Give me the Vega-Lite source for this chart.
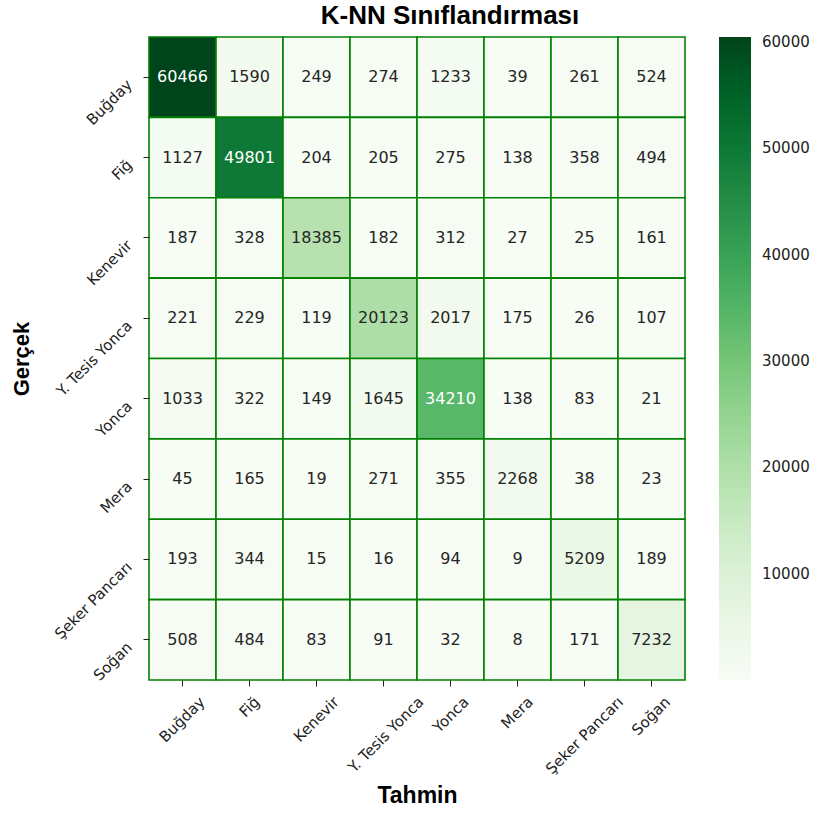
{
  "$schema": "https://vega.github.io/schema/vega-lite/v6.json",
  "width": 536,
  "height": 643,
  "autosize": {"type": "none"},
  "padding": {"left": 149, "top": 37, "right": 133, "bottom": 134},
  "background": "white",
  "title": {
    "text": "K-NN Sınıflandırması",
    "font": "Liberation Sans",
    "fontSize": 26,
    "fontWeight": "bold",
    "color": "#000000",
    "anchor": "middle",
    "dx": 33,
    "offset": 7
  },
  "data": {
    "values": [
      {"t": "Buğday", "p": "Buğday", "v": 60466}, {"t": "Buğday", "p": "Fiğ", "v": 1590}, {"t": "Buğday", "p": "Kenevir", "v": 249}, {"t": "Buğday", "p": "Y. Tesis Yonca", "v": 274}, {"t": "Buğday", "p": "Yonca", "v": 1233}, {"t": "Buğday", "p": "Mera", "v": 39}, {"t": "Buğday", "p": "Şeker Pancarı", "v": 261}, {"t": "Buğday", "p": "Soğan", "v": 524},
      {"t": "Fiğ", "p": "Buğday", "v": 1127}, {"t": "Fiğ", "p": "Fiğ", "v": 49801}, {"t": "Fiğ", "p": "Kenevir", "v": 204}, {"t": "Fiğ", "p": "Y. Tesis Yonca", "v": 205}, {"t": "Fiğ", "p": "Yonca", "v": 275}, {"t": "Fiğ", "p": "Mera", "v": 138}, {"t": "Fiğ", "p": "Şeker Pancarı", "v": 358}, {"t": "Fiğ", "p": "Soğan", "v": 494},
      {"t": "Kenevir", "p": "Buğday", "v": 187}, {"t": "Kenevir", "p": "Fiğ", "v": 328}, {"t": "Kenevir", "p": "Kenevir", "v": 18385}, {"t": "Kenevir", "p": "Y. Tesis Yonca", "v": 182}, {"t": "Kenevir", "p": "Yonca", "v": 312}, {"t": "Kenevir", "p": "Mera", "v": 27}, {"t": "Kenevir", "p": "Şeker Pancarı", "v": 25}, {"t": "Kenevir", "p": "Soğan", "v": 161},
      {"t": "Y. Tesis Yonca", "p": "Buğday", "v": 221}, {"t": "Y. Tesis Yonca", "p": "Fiğ", "v": 229}, {"t": "Y. Tesis Yonca", "p": "Kenevir", "v": 119}, {"t": "Y. Tesis Yonca", "p": "Y. Tesis Yonca", "v": 20123}, {"t": "Y. Tesis Yonca", "p": "Yonca", "v": 2017}, {"t": "Y. Tesis Yonca", "p": "Mera", "v": 175}, {"t": "Y. Tesis Yonca", "p": "Şeker Pancarı", "v": 26}, {"t": "Y. Tesis Yonca", "p": "Soğan", "v": 107},
      {"t": "Yonca", "p": "Buğday", "v": 1033}, {"t": "Yonca", "p": "Fiğ", "v": 322}, {"t": "Yonca", "p": "Kenevir", "v": 149}, {"t": "Yonca", "p": "Y. Tesis Yonca", "v": 1645}, {"t": "Yonca", "p": "Yonca", "v": 34210}, {"t": "Yonca", "p": "Mera", "v": 138}, {"t": "Yonca", "p": "Şeker Pancarı", "v": 83}, {"t": "Yonca", "p": "Soğan", "v": 21},
      {"t": "Mera", "p": "Buğday", "v": 45}, {"t": "Mera", "p": "Fiğ", "v": 165}, {"t": "Mera", "p": "Kenevir", "v": 19}, {"t": "Mera", "p": "Y. Tesis Yonca", "v": 271}, {"t": "Mera", "p": "Yonca", "v": 355}, {"t": "Mera", "p": "Mera", "v": 2268}, {"t": "Mera", "p": "Şeker Pancarı", "v": 38}, {"t": "Mera", "p": "Soğan", "v": 23},
      {"t": "Şeker Pancarı", "p": "Buğday", "v": 193}, {"t": "Şeker Pancarı", "p": "Fiğ", "v": 344}, {"t": "Şeker Pancarı", "p": "Kenevir", "v": 15}, {"t": "Şeker Pancarı", "p": "Y. Tesis Yonca", "v": 16}, {"t": "Şeker Pancarı", "p": "Yonca", "v": 94}, {"t": "Şeker Pancarı", "p": "Mera", "v": 9}, {"t": "Şeker Pancarı", "p": "Şeker Pancarı", "v": 5209}, {"t": "Şeker Pancarı", "p": "Soğan", "v": 189},
      {"t": "Soğan", "p": "Buğday", "v": 508}, {"t": "Soğan", "p": "Fiğ", "v": 484}, {"t": "Soğan", "p": "Kenevir", "v": 83}, {"t": "Soğan", "p": "Y. Tesis Yonca", "v": 91}, {"t": "Soğan", "p": "Yonca", "v": 32}, {"t": "Soğan", "p": "Mera", "v": 8}, {"t": "Soğan", "p": "Şeker Pancarı", "v": 171}, {"t": "Soğan", "p": "Soğan", "v": 7232}
    ]
  },
  "encoding": {
    "x": {
      "field": "p",
      "type": "nominal",
      "sort": ["Buğday", "Fiğ", "Kenevir", "Y. Tesis Yonca", "Yonca", "Mera", "Şeker Pancarı", "Soğan"],
      "title": "Tahmin",
      "axis": {
        "labelAngle": -45,
        "labelAlign": "right",
        "labelBaseline": "top",
        "labelPadding": 8,
        "labelOffset": {"expr": "datum.label == 'Buğday' ? 14.8 : datum.label == 'Fiğ' ? 2.5 : datum.label == 'Kenevir' ? 14.8 : datum.label == 'Y. Tesis Yonca' ? 32.5 : datum.label == 'Yonca' ? 10.7 : datum.label == 'Mera' ? 7.9 : datum.label == 'Şeker Pancarı' ? 31.1 : 11.3"},
        "titleFontSize": 23,
        "titlePadding": 8
      }
    },
    "y": {
      "field": "t",
      "type": "nominal",
      "sort": ["Buğday", "Fiğ", "Kenevir", "Y. Tesis Yonca", "Yonca", "Mera", "Şeker Pancarı", "Soğan"],
      "title": "Gerçek",
      "axis": {
        "labelAngle": -45,
        "labelAlign": "right",
        "labelBaseline": "top",
        "labelPadding": 19,
        "titleFontSize": 22,
        "titlePadding": 18
      }
    }
  },
  "layer": [
    {
      "mark": {"type": "rect", "stroke": "green", "strokeWidth": 1.6},
      "encoding": {
        "color": {
          "field": "v",
          "type": "quantitative",
          "scale": {
            "domain": [8, 7565.25, 15122.5, 22679.75, 30237, 37794.25, 45351.5, 52908.75, 60466],
            "range": ["#f7fcf5", "#e5f5e0", "#c7e9c0", "#a1d99b", "#74c476", "#41ab5d", "#238b45", "#006d2c", "#00441b"],
            "interpolate": "rgb"
          },
          "legend": {
            "orient": "none",
            "legendX": 570,
            "legendY": 0,
            "direction": "vertical",
            "title": null,
            "gradientLength": 643,
            "gradientThickness": 32,
            "gradientStrokeWidth": 0,
            "values": [10000, 20000, 30000, 40000, 50000, 60000],
            "format": "d",
            "labelFont": "DejaVu Sans",
            "labelFontSize": 15,
            "labelColor": "#222222",
            "labelOffset": 11,
            "labelBaseline": "middle",
            "labelOverlap": false
          }
        }
      }
    },
    {
      "mark": {"type": "text", "font": "DejaVu Sans", "fontSize": 16},
      "encoding": {
        "text": {"field": "v", "type": "quantitative", "format": "d"},
        "color": {
          "condition": {"test": "datum.v > 28000", "value": "#ffffff"},
          "value": "#262626"
        }
      }
    }
  ],
  "config": {
    "view": {"stroke": null},
    "axis": {
      "domain": false,
      "grid": false,
      "ticks": true,
      "tickSize": 6,
      "tickColor": "#222222",
      "labelFont": "DejaVu Sans",
      "labelFontSize": 15,
      "labelColor": "#222222",
      "titleFont": "Liberation Sans",
      "titleFontWeight": "bold",
      "titleColor": "#000000"
    }
  }
}
